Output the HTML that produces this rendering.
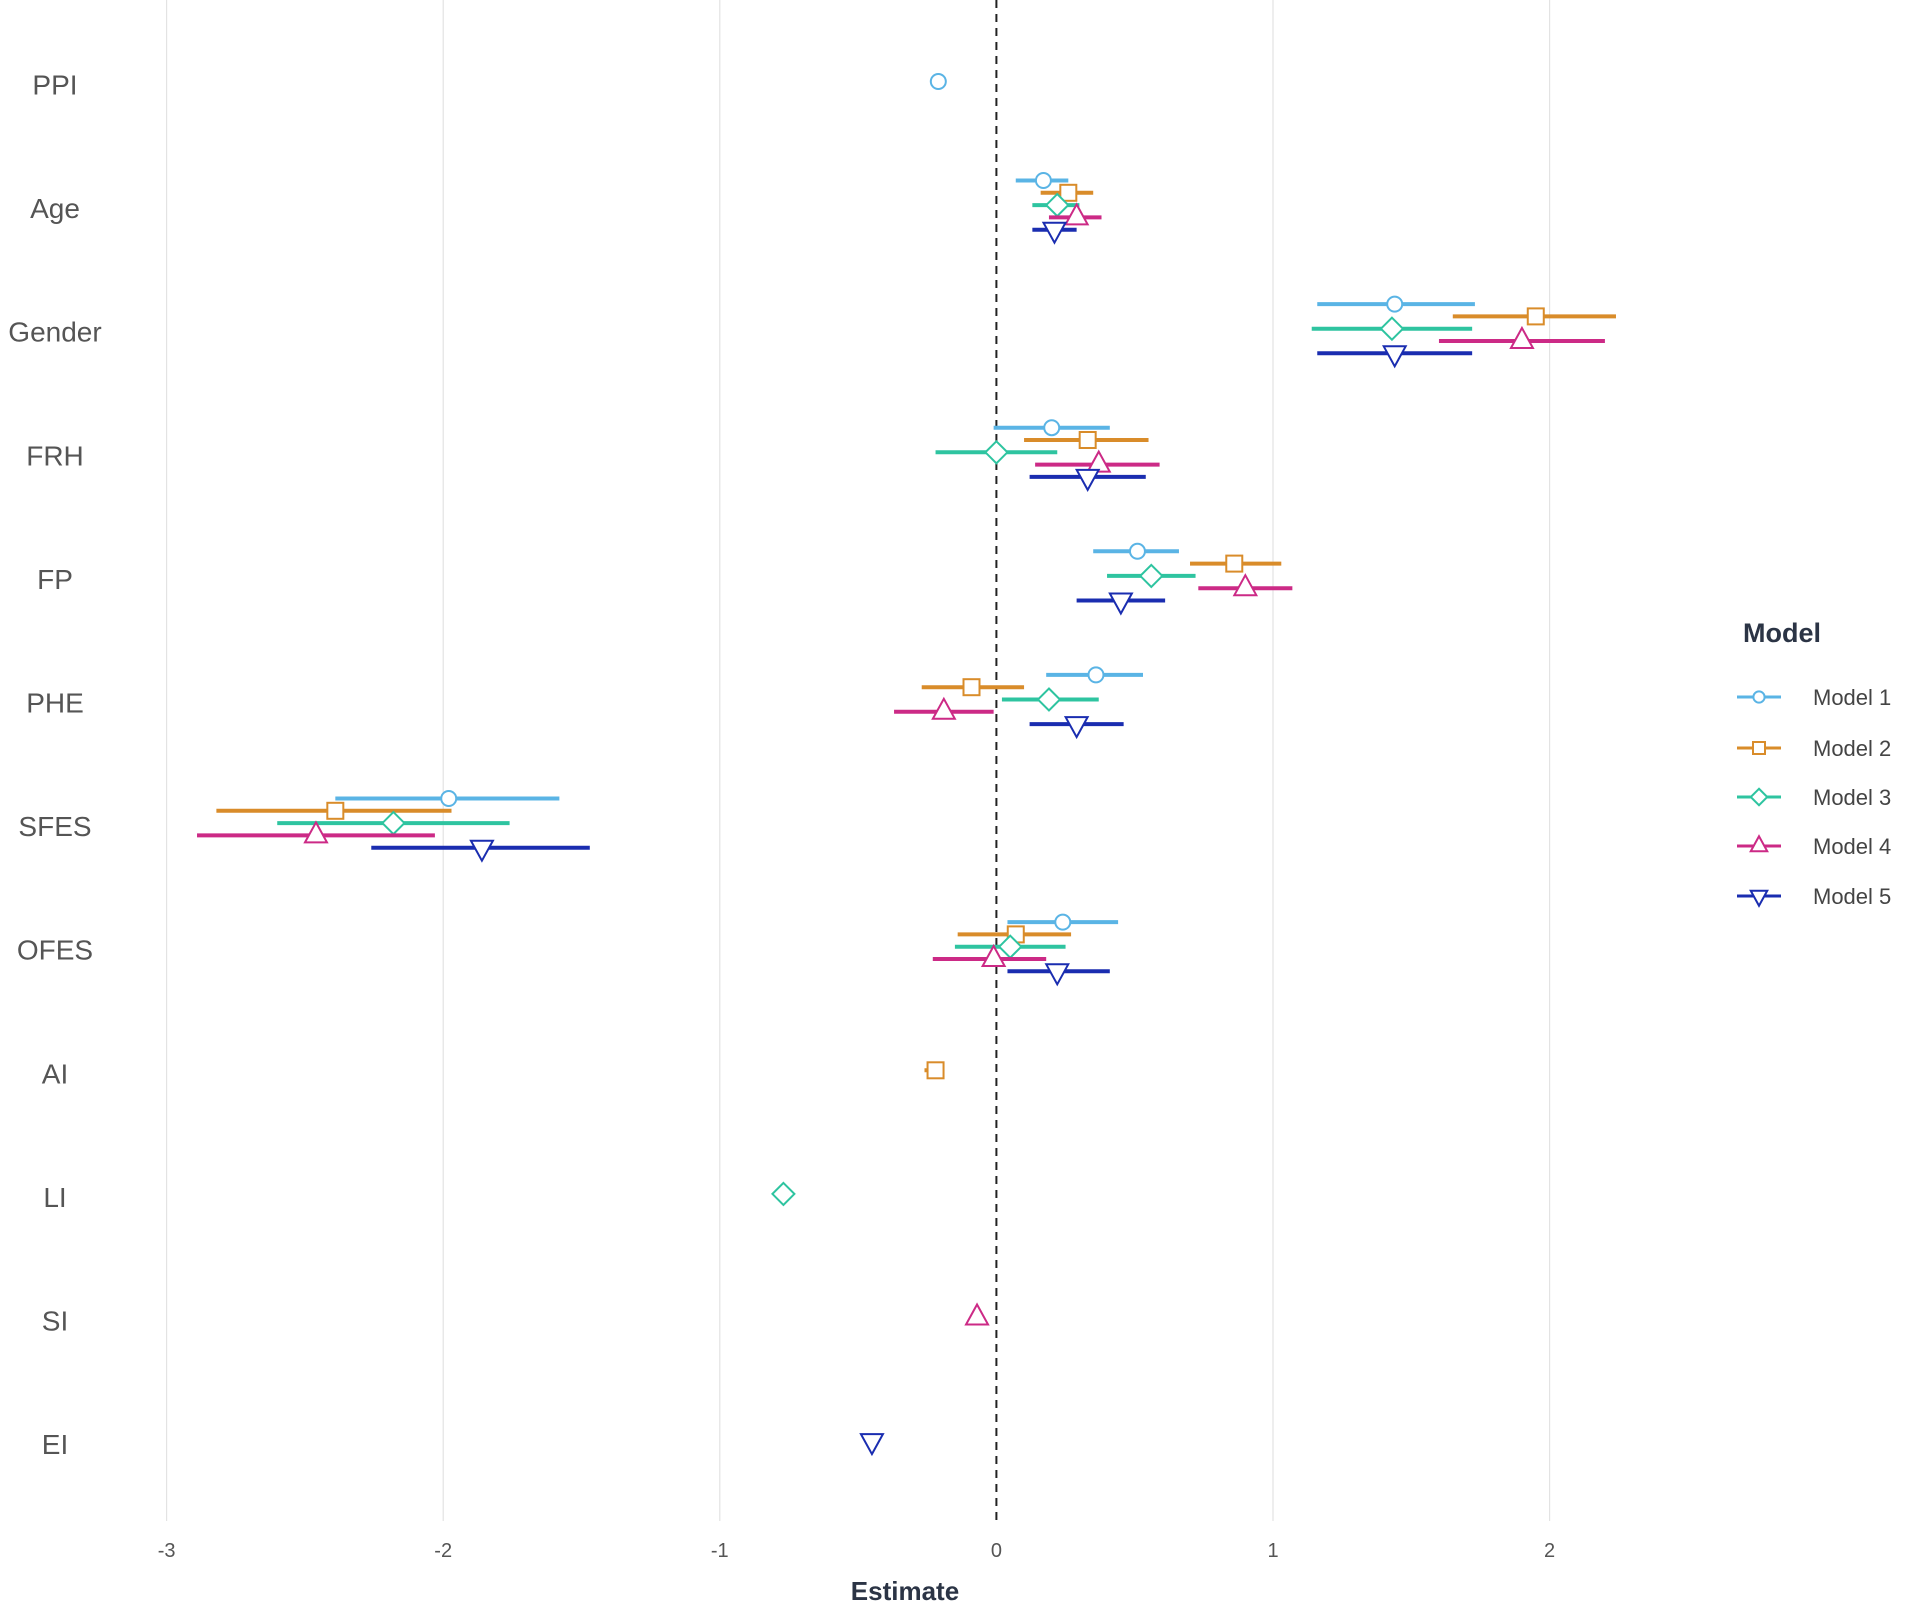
<!DOCTYPE html>
<html><head><meta charset="utf-8"><style>
html,body{margin:0;padding:0;background:#fff;}
svg{display:block;font-family:"Liberation Sans",sans-serif;}
</style></head><body>
<svg id="chart" width="1908" height="1615" viewBox="0 0 1908 1615" xmlns="http://www.w3.org/2000/svg"></svg>
<script>
const categories = ["PPI","Age","Gender","FRH","FP","PHE","SFES","OFES","AI","LI","SI","EI"];
const models = ["Model 1","Model 2","Model 3","Model 4","Model 5"];
const xTicks = [-3,-2,-1,0,1,2];
// estimates per model per category (null = not in model)
const est1 = [-0.21,0.17,1.44,0.20,0.51,0.36,-1.98,0.24,null,null,null,null];
const lo1  = [null,0.07,1.16,-0.01,0.35,0.18,-2.39,0.04,null,null,null,null];
const hi1  = [null,0.26,1.73,0.41,0.66,0.53,-1.58,0.44,null,null,null,null];
const est2 = [null,0.26,1.95,0.33,0.86,-0.09,-2.39,0.07,-0.22,null,null,null];
const lo2  = [null,0.16,1.65,0.10,0.70,-0.27,-2.82,-0.14,-0.26,null,null,null];
const hi2  = [null,0.35,2.24,0.55,1.03,0.10,-1.97,0.27,-0.19,null,null,null];
const est3 = [null,0.22,1.43,0.00,0.56,0.19,-2.18,0.05,null,-0.77,null,null];
const lo3  = [null,0.13,1.14,-0.22,0.40,0.02,-2.60,-0.15,null,null,null,null];
const hi3  = [null,0.30,1.72,0.22,0.72,0.37,-1.76,0.25,null,null,null,null];
const est4 = [null,0.29,1.90,0.37,0.90,-0.19,-2.46,-0.01,null,null,-0.07,null];
const lo4  = [null,0.19,1.60,0.14,0.73,-0.37,-2.89,-0.23,null,null,null,null];
const hi4  = [null,0.38,2.20,0.59,1.07,-0.01,-2.03,0.18,null,null,null,null];
const est5 = [null,0.21,1.44,0.33,0.45,0.29,-1.86,0.22,null,null,null,-0.45];
const lo5  = [null,0.13,1.16,0.12,0.29,0.12,-2.26,0.04,null,null,null,null];
const hi5  = [null,0.29,1.72,0.54,0.61,0.46,-1.47,0.41,null,null,null,null];

const EST=[est1,est2,est3,est4,est5], LO=[lo1,lo2,lo3,lo4,lo5], HI=[hi1,hi2,hi3,hi4,hi5];
const colors=["#5ab4e5","#d98c2a","#2ec4a0","#cc2a86","#1a2db0"];
const NS="http://www.w3.org/2000/svg";
const svg=document.getElementById("chart");
const X0=996.4, UNIT=276.6;
const xs=v=>X0+v*UNIT;
const ys=i=>81.5+i*123.6;
function mk(tag,attrs,parent){const e=document.createElementNS(NS,tag);for(const k in attrs)e.setAttribute(k,attrs[k]);(parent||svg).appendChild(e);return e;}

// grid
xTicks.forEach(t=>{
  if(t!==0){const g=mk("line",{x1:xs(t),x2:xs(t),y1:0,y2:1521,stroke:"#e3e3e3","stroke-width":1.2});
  
  }
  const tx=mk("text",{x:xs(t),y:1557,"text-anchor":"middle","font-size":20,fill:"#555"});tx.textContent=t;
  
  
});
const zl=mk("line",{x1:xs(0),x2:xs(0),y1:0,y2:1521,stroke:"#222","stroke-width":2,"stroke-dasharray":"8,6"});



categories.forEach((c,i)=>{
  const t=mk("text",{x:55,y:ys(i)+13,"text-anchor":"middle","font-size":28,fill:"#555"});t.textContent=c;
  
  
});

function marker(m,cx,cy,col,parent,s){
  s=s||1;let e;
  if(m===0)e=mk("circle",{cx,cy,r:7.5*s},parent);
  else if(m===1)e=mk("rect",{x:cx-8*s,y:cy-8*s,width:16*s,height:16*s},parent);
  else if(m===2)e=mk("polygon",{points:`${cx},${cy-11*s} ${cx+11*s},${cy} ${cx},${cy+11*s} ${cx-11*s},${cy}`},parent);
  else if(m===3)e=mk("polygon",{points:`${cx},${cy-13*s} ${cx+11*s},${cy+7*s} ${cx-11*s},${cy+7*s}`},parent);
  else e=mk("polygon",{points:`${cx},${cy+13*s} ${cx+11*s},${cy-7*s} ${cx-11*s},${cy-7*s}`},parent);
  e.setAttribute("fill","#fff");e.setAttribute("stroke",col);e.setAttribute("stroke-width",2);
  return e;
}

for(let m=0;m<5;m++){
  categories.forEach((c,i)=>{
    const v=EST[m][i]; if(v===null)return;
    const multi=EST.filter(a=>a[i]!==null).length>1;
    const cy=ys(i)+(multi?(m-2)*12.3:0);
    if(LO[m][i]!==null){
      const l=mk("line",{x1:xs(LO[m][i]),x2:xs(HI[m][i]),y1:cy,y2:cy,stroke:colors[m],"stroke-width":4});
      
      
    }
    const p=marker(m,xs(v),cy,colors[m]);
    
    
  });
}

const xt=mk("text",{x:905,y:1600,"text-anchor":"middle","font-size":26,"font-weight":"bold",fill:"#2b3445"});xt.textContent="Estimate";



const lt=mk("text",{x:1743,y:642,"font-size":27,"font-weight":"bold",fill:"#2b3445"});lt.textContent="Model";


const legY=[697,748,797,846,896];
models.forEach((name,m)=>{
  const g=mk("g",{});
  
  
  mk("line",{x1:1737,x2:1781,y1:legY[m],y2:legY[m],stroke:colors[m],"stroke-width":3},g);
  marker(m,1759,legY[m],colors[m],g,0.75);
  const t=mk("text",{x:1813,y:legY[m]+8,"font-size":22,fill:"#444"},g);t.textContent=name;
});
</script>
</body></html>
